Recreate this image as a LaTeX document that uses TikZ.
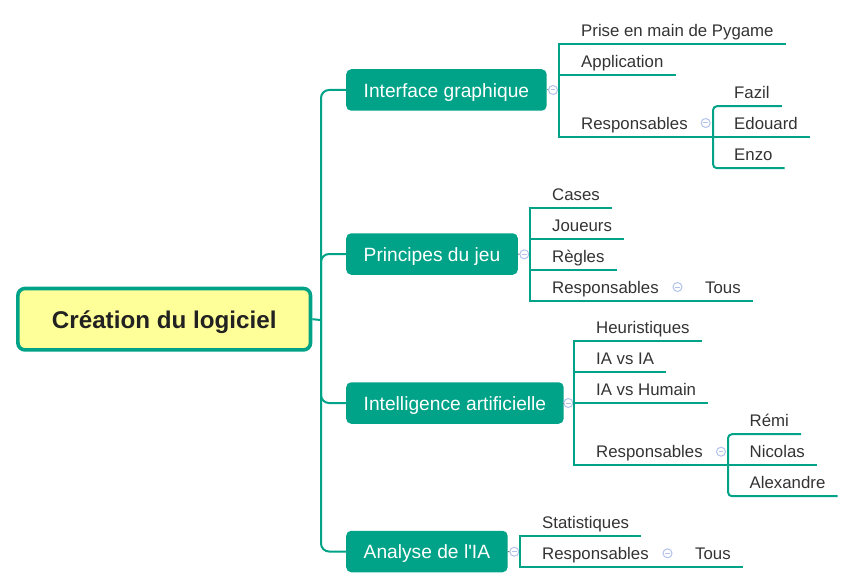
\documentclass[tikz,border=0pt]{standalone}
\usepackage{fontspec}
\setmainfont{Liberation Sans}
\definecolor{brand}{RGB}{0,163,135}
\definecolor{rootfill}{RGB}{255,255,153}
\definecolor{leaftext}{RGB}{51,51,51}
\definecolor{roottext}{RGB}{34,34,34}
\definecolor{togglecol}{RGB}{178,194,236}
\definecolor{ticklecol}{RGB}{120,120,120}
\begin{document}
\begin{tikzpicture}[x=1pt,y=-1pt,
  rootnode/.style={draw=brand, line width=3.6pt, fill=rootfill, rounded corners=7pt,
    minimum width=292.6pt, minimum height=61.4pt, inner sep=0pt,
    text height=17.6pt, text depth=0pt, text=roottext,
    font=\fontsize{24.2}{29}\selectfont\bfseries},
  mainnode/.style={fill=brand, text=white, rounded corners=5pt, anchor=west,
    minimum height=41.5pt, inner xsep=17.5pt, inner ysep=0pt,
    text height=14.6pt, text depth=0pt, font=\fontsize{19.2}{23}\selectfont},
  leaf/.style={anchor=base west, inner sep=0pt, text depth=7.6pt, text=leaftext,
    font=\fontsize{16.8}{20}\selectfont},
  toggle/.style={circle, draw=togglecol, line width=1pt, fill=white,
    minimum size=9pt, inner sep=0pt,
    path picture={\draw[togglecol, line width=1pt]
      ([xshift=-2.4pt]path picture bounding box.center) --
      ([xshift=2.4pt]path picture bounding box.center);}},
  br/.style={draw=brand, line width=2pt},
  subbr/.style={draw=brand, line width=2pt, rounded corners=4pt},
  mainbr/.style={draw=brand, line width=2pt, rounded corners=8pt},
  tick/.style={draw=ticklecol, line width=1pt},
]
\useasboundingbox (0,0) rectangle (853,588);

% ---------------- root and main branches
\node[rootnode] (root) at (164.2,319.2) {Création du logiciel};
\coordinate (rj) at (321,320);

\node[mainnode] (ig) at (346,90) {Interface graphique};
\node[mainnode] (pj) at (346,254) {Principes du jeu};
\node[mainnode] (ia) at (346,403) {Intelligence artificielle};
\node[mainnode] (an) at (346,551.5) {Analyse de l\textquotesingle IA};

\draw[br] (root.east) -- (rj);
\draw[mainbr] (rj) -- (rj |- ig.west) -- (ig.west);
\draw[mainbr] (rj) -- (rj |- pj.west) -- (pj.west);
\draw[mainbr] (rj) -- (rj |- ia.west) -- (ia.west);
\draw[mainbr] (rj) -- (rj |- an.west) -- (an.west);

% ---------------- Interface graphique
\node[toggle] (tig) at (553,90) {};
\coordinate (v1) at (558.5,90);
\node[leaf] (pg) at (581,36.4) {Prise en main de Pygame};
\node[leaf] (app) at (581,67.4) {Application};
\node[leaf] (r1) at (581,129.4) {Responsables};
\node[toggle] (tr1) at (705.7,123) {};
\coordinate (s1) at (713,123);
\node[leaf] (fa) at (734,98.4) {Fazil};
\node[leaf] (ed) at (734,129.4) {Edouard};
\node[leaf] (en) at (734,160.4) {Enzo};

\draw[tick] (ig.east) -- (tig.west);
\draw[br] (tig.east) -- (v1);
\draw[br] ([xshift=12pt]pg.south east) -- (v1 |- pg.south) -- (v1 |- r1.south) -- (s1 |- r1.south);
\draw[br] (v1 |- app.south) -- ([xshift=12pt]app.south east);
\draw[subbr] ([xshift=12pt]fa.south east) -- (s1 |- fa.south) -- (s1 |- en.south) -- ([xshift=12pt]en.south east);
\draw[br] (s1 |- ed.south) -- ([xshift=12pt]ed.south east);

% ---------------- Principes du jeu
\node[toggle] (tpj) at (524.3,254.3) {};
\coordinate (v2) at (530,254.3);
\node[leaf] (ca) at (552,200.4) {Cases};
\node[leaf] (jo) at (552,231.4) {Joueurs};
\node[leaf] (re) at (552,262.4) {Règles};
\node[leaf] (r2) at (552,293.4) {Responsables};
\node[toggle] (tr2) at (677.5,287) {};
\node[leaf] (to2) at (705,293.4) {Tous};

\draw[tick] (pj.east) -- (tpj.west);
\draw[br] (tpj.east) -- (v2);
\draw[br] ([xshift=12pt]ca.south east) -- (v2 |- ca.south) -- (v2 |- r2.south) -- ([xshift=12pt]to2.south east);
\draw[br] (v2 |- jo.south) -- ([xshift=12pt]jo.south east);
\draw[br] (v2 |- re.south) -- ([xshift=12pt]re.south east);

% ---------------- Intelligence artificielle
\node[toggle] (tia) at (568.3,403) {};
\coordinate (v3) at (574,403);
\node[leaf] (he) at (596,333.4) {Heuristiques};
\node[leaf] (ii) at (596,364.4) {IA vs IA};
\node[leaf] (ih) at (596,395.4) {IA vs Humain};
\node[leaf] (r3) at (596,457.4) {Responsables};
\node[toggle] (tr3) at (721,451.7) {};
\coordinate (s3) at (728,451.7);
\node[leaf] (rm) at (749.5,426.4) {Rémi};
\node[leaf] (ni) at (749.5,457.4) {Nicolas};
\node[leaf] (al) at (749.5,488.4) {Alexandre};

\draw[tick] (ia.east) -- (tia.west);
\draw[br] (tia.east) -- (v3);
\draw[br] ([xshift=12pt]he.south east) -- (v3 |- he.south) -- (v3 |- r3.south) -- (s3 |- r3.south);
\draw[br] (v3 |- ii.south) -- ([xshift=12pt]ii.south east);
\draw[br] (v3 |- ih.south) -- ([xshift=12pt]ih.south east);
\draw[subbr] ([xshift=12pt]rm.south east) -- (s3 |- rm.south) -- (s3 |- al.south) -- ([xshift=12pt]al.south east);
\draw[br] (s3 |- ni.south) -- ([xshift=12pt]ni.south east);

% ---------------- Analyse de l'IA
\node[toggle] (tan) at (514.3,551.7) {};
\coordinate (v4) at (520,551.7);
\node[leaf] (st) at (542,528.4) {Statistiques};
\node[leaf] (r4) at (542,559.4) {Responsables};
\node[toggle] (tr4) at (667.5,553.3) {};
\node[leaf] (to4) at (695,559.4) {Tous};

\draw[tick] (an.east) -- (tan.west);
\draw[br] (tan.east) -- (v4);
\draw[br] ([xshift=12pt]st.south east) -- (v4 |- st.south) -- (v4 |- r4.south) -- ([xshift=12pt]to4.south east);
\end{tikzpicture}
\end{document}
